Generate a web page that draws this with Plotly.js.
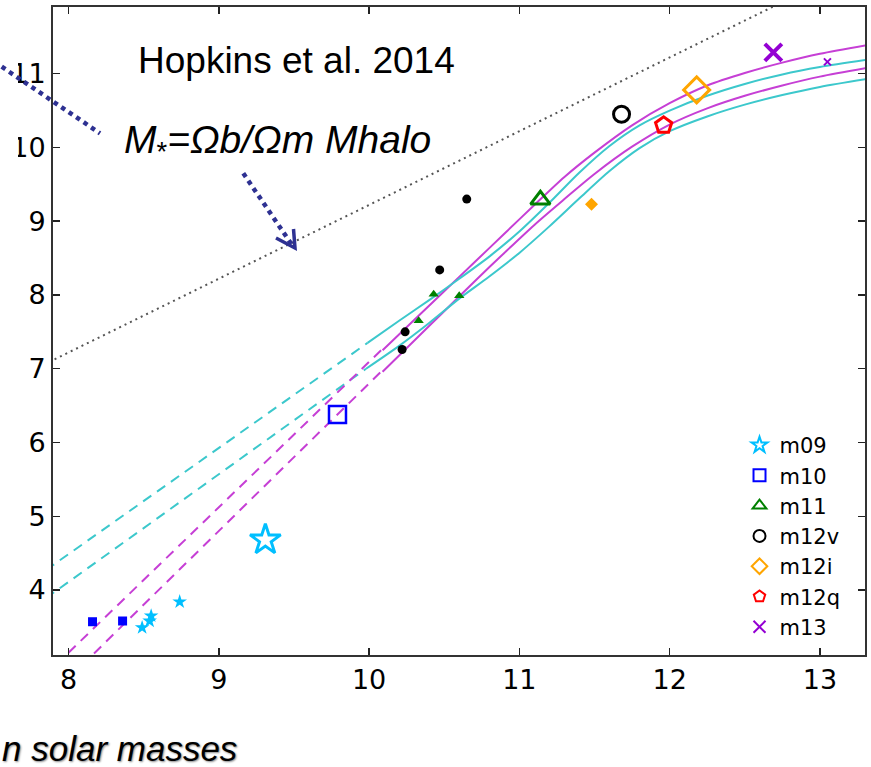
<!DOCTYPE html>
<html>
<head>
<meta charset="utf-8">
<script src="https://cdn.plot.ly/plotly-3.0.1.min.js"></script>
<style>html,body{margin:0;padding:0;background:#fff;}</style>
</head>
<body>
<div id="chart" style="width:871px;height:767px;"></div>
<script>
// ---- data (log10 halo mass vs log10 stellar mass) ----
var baryonX = [7.8, 13.4];
var baryonY = [7.02, 12.62];

var cyanDashUpperX = [7.85, 9.99];
var cyanDashUpperY = [4.27, 7.35];
var cyanDashLowerX = [7.85, 9.98];
var cyanDashLowerY = [3.89, 7.0];
var magDashUpperX = [8.0, 10.09];
var magDashUpperY = [3.15, 7.27];
var magDashLowerX = [8.17, 10.09];
var magDashLowerY = [3.14, 6.98];

var magUpperX = [10.09, 10.3, 10.5, 10.7, 10.9, 11.1, 11.3, 11.5, 11.75, 12.0, 12.25, 12.5, 12.75, 13.0, 13.32];
var magUpperY = [7.25, 7.66, 8.05, 8.44, 8.83, 9.22, 9.60, 9.93, 10.30, 10.60, 10.84, 11.01, 11.15, 11.27, 11.39];
var cyanUpperX = [9.99, 10.2, 10.4, 10.6, 10.8, 11.0, 11.2, 11.4, 11.6, 11.8, 12.0, 12.25, 12.5, 12.75, 13.0, 13.32];
var cyanUpperY = [7.35, 7.65, 7.93, 8.22, 8.52, 8.86, 9.25, 9.66, 10.02, 10.30, 10.50, 10.70, 10.86, 10.99, 11.09, 11.19];
var magLowerX = [10.09, 10.3, 10.5, 10.7, 10.9, 11.1, 11.3, 11.5, 11.75, 12.0, 12.25, 12.5, 12.75, 13.0, 13.32];
var magLowerY = [6.96, 7.38, 7.78, 8.18, 8.57, 8.95, 9.30, 9.64, 10.01, 10.31, 10.53, 10.70, 10.84, 10.96, 11.08];
var cyanLowerX = [9.98, 10.2, 10.4, 10.6, 10.8, 11.0, 11.2, 11.4, 11.6, 11.8, 12.0, 12.25, 12.5, 12.75, 13.0, 13.32];
var cyanLowerY = [7.0, 7.31, 7.62, 7.95, 8.25, 8.57, 8.93, 9.31, 9.68, 9.99, 10.22, 10.42, 10.58, 10.71, 10.82, 10.93];

var simNames = ["m09", "m10", "m11", "m12v", "m12i", "m12q", "m13"];
var simColors = ["#00BFFF", "#0000FF", "#008000", "#000000", "#FFA500", "#FF0000", "#9400D3"];
var bigX = [9.31, 9.79, 11.14, 11.68, 12.18, 11.96, 12.69];
var bigY = [4.68, 6.38, 9.29, 10.45, 10.78, 10.30, 11.29];

var m09SmallX = [8.49, 8.54, 8.55, 8.74];
var m09SmallY = [3.49, 3.58, 3.65, 3.84];
var m10SmallX = [8.16, 8.36];
var m10SmallY = [3.57, 3.58];
var m11SmallX = [10.43, 10.60, 10.33];
var m11SmallY = [8.01, 7.99, 7.65];
var m12vSmallX = [10.65, 10.47, 10.24, 10.22];
var m12vSmallY = [9.30, 8.34, 7.50, 7.26];
var m12iSmallX = [11.48];
var m12iSmallY = [9.23];
var m13SmallX = [13.05];
var m13SmallY = [11.16];

// ---- styles ----
var MAG = "#c63fd5", CYAN = "#3cc8cc";
var bigSymbols = ["star-open", "square-open", "triangle-up-open", "circle-open", "diamond-open", "pentagon-open", "x-thin-open"];
var bigSizes = [23, 17, 17, 16, 20, 17, 17];
var bigWidths = [3, 2.5, 3, 3, 3, 3, 4];

var traces = [];
traces.push({x: baryonX, y: baryonY, mode: "lines", showlegend: false, hoverinfo: "skip",
  line: {color: "#555", width: 2, dash: "2px,4px"}});
[[cyanDashUpperX, cyanDashUpperY, CYAN], [cyanDashLowerX, cyanDashLowerY, CYAN],
 [magDashUpperX, magDashUpperY, MAG], [magDashLowerX, magDashLowerY, MAG]].forEach(function (d) {
  traces.push({x: d[0], y: d[1], mode: "lines", showlegend: false, hoverinfo: "skip",
    line: {color: d[2], width: 2, dash: "10px,7px"}});
});
[[magUpperX, magUpperY, MAG], [cyanUpperX, cyanUpperY, CYAN],
 [magLowerX, magLowerY, MAG], [cyanLowerX, cyanLowerY, CYAN]].forEach(function (d) {
  traces.push({x: d[0], y: d[1], mode: "lines", showlegend: false, hoverinfo: "skip",
    line: {color: d[2], width: 2, shape: "spline", smoothing: 0.8}});
});

var smallSets = [
  [m09SmallX, m09SmallY, 0, "star", 11],
  [m10SmallX, m10SmallY, 1, "square", 9],
  [m11SmallX, m11SmallY, 2, "triangle-up", 9],
  [m12vSmallX, m12vSmallY, 3, "circle", 9],
  [m12iSmallX, m12iSmallY, 4, "diamond", 10],
  [m13SmallX, m13SmallY, 6, "x-thin-open", 7]
];
smallSets.forEach(function (s) {
  traces.push({x: s[0], y: s[1], mode: "markers", showlegend: false, hoverinfo: "skip",
    marker: {symbol: s[3], size: s[4], color: simColors[s[2]],
      line: {color: simColors[s[2]], width: s[3] === "x-thin-open" ? 2 : 0}}});
});

for (var i = 0; i < simNames.length; i++) {
  traces.push({x: [bigX[i]], y: [bigY[i]], name: simNames[i], mode: "markers",
    marker: {symbol: bigSymbols[i], size: bigSizes[i], color: simColors[i],
      line: {color: simColors[i], width: bigWidths[i]}}});
}

// plot area pixel geometry helpers for decorations
var L = 53, R = 6, T = 7, B = 112, W = 871, H = 767;
function px(x) { return (x - L) / (W - L - R); }
function py(y) { return (H - B - y) / (H - T - B); }

var NAVY = "#2E3192";
var layout = {
  width: W, height: H,
  margin: {l: L, r: R, t: T, b: B},
  paper_bgcolor: "#fff", plot_bgcolor: "#fff",
  showlegend: true,
  legend: {x: 0.976, xanchor: "right", y: 0.011, yanchor: "bottom", bgcolor: "rgba(0,0,0,0)",
    font: {family: "DejaVu Sans", size: 21, color: "#000"}, itemsizing: "constant", tracegroupgap: 0},
  xaxis: {range: [7.897, 13.30], tickvals: [8, 9, 10, 11, 12, 13], ticktext: ["8", "9", "10", "11", "12", "13"],
    ticks: "inside", ticklen: 7, tickwidth: 1.5, tickcolor: "#222", mirror: "ticks",
    showline: true, linecolor: "#333", linewidth: 2, showgrid: false, zeroline: false,
    tickfont: {family: "DejaVu Sans", size: 27, color: "#000"}},
  yaxis: {range: [3.119, 11.904], tickvals: [4, 5, 6, 7, 8, 9, 10, 11], ticktext: ["4", "5", "6", "7", "8", "9", "10", "11"],
    ticks: "inside", ticklen: 7, tickwidth: 1.5, tickcolor: "#222", mirror: "ticks",
    showline: true, linecolor: "#333", linewidth: 2, showgrid: false, zeroline: false,
    tickfont: {family: "DejaVu Sans", size: 27, color: "#000"}},
  shapes: [
    {type: "rect", xref: "paper", yref: "paper", x0: -0.2, x1: px(18), y0: py(705), y1: 1.05,
      fillcolor: "#fff", line: {width: 0}, layer: "above"},
    {type: "line", xref: "paper", yref: "paper", x0: px(1.7), y0: py(66.7), x1: px(100), y1: py(133.3),
      line: {color: NAVY, width: 4.5, dash: "dot"}, layer: "above"},
    {type: "line", xref: "paper", yref: "paper", x0: px(243.3), y0: py(173.3), x1: px(292), y1: py(245),
      line: {color: NAVY, width: 4.5, dash: "dot"}, layer: "above"},
    {type: "path", xref: "paper", yref: "paper",
      path: "M" + px(276) + "," + py(238) + " L" + px(295) + "," + py(248) + " L" + px(293.5) + "," + py(229),
      line: {color: NAVY, width: 3.5}, layer: "above"}
  ],
  annotations: [
    {xref: "paper", yref: "paper", x: px(296), y: py(60), xanchor: "center", yanchor: "middle", showarrow: false,
      text: "Hopkins et al. 2014", font: {family: "Liberation Sans, Arial", size: 37, color: "#000"}},
    {xref: "paper", yref: "paper", x: px(277), y: py(142), xanchor: "center", yanchor: "middle", showarrow: false,
      text: "<i>M</i><sub>*</sub><i>=Ωb/Ωm Mhalo</i>", font: {family: "Liberation Sans, Arial", size: 39, color: "#000"}},
    {xref: "paper", yref: "paper", x: px(1), y: py(748), xanchor: "left", yanchor: "middle", showarrow: false,
      borderpad: 0,
      text: "<i>n solar masses</i>", font: {family: "Liberation Sans, Arial", size: 35, color: "#000", shadow: "1px 1px 2px #888"}}
  ]
};

Plotly.newPlot("chart", traces, layout, {displayModeBar: false, staticPlot: true});
</script>
</body>
</html>
